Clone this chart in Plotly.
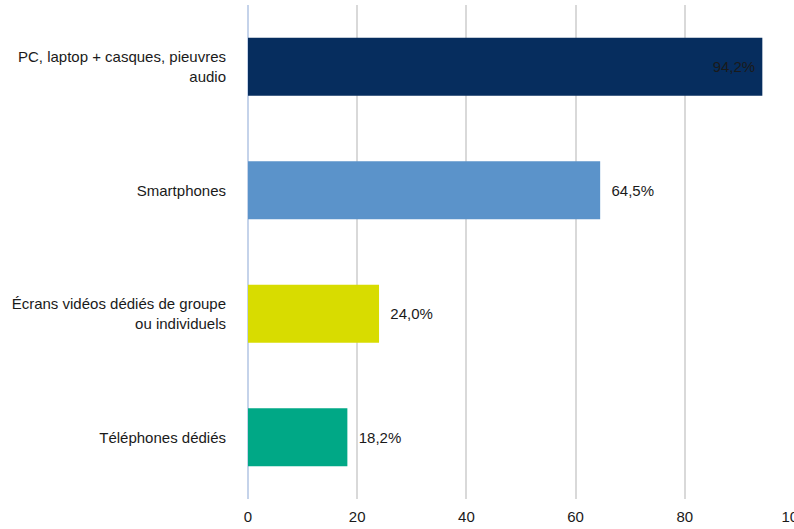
import plotly.graph_objects as go

categories = ["PC, laptop + casques, pieuvres<br>audio", "Smartphones",
              "Écrans vidéos dédiés de groupe<br>ou individuels", "Téléphones dédiés"]
values = [94.2, 64.5, 24.0, 18.2]
labels = ["94,2%", "64,5%", "24,0%", "18,2%"]
colors = ["#062d5e", "#5b93ca", "#d8dc00", "#00a886"]
positions = ["inside", "outside", "outside", "outside"]
templates = ["%{text} ", "  %{text}", "  %{text}", "  %{text}"]
x_ticks = [0, 20, 40, 60, 80, 100]

fig = go.Figure(go.Bar(
    y=categories, x=values, orientation="h",
    marker=dict(color=colors, line=dict(width=0)),
    text=labels, textposition=positions, texttemplate=templates, insidetextanchor="end",
    textfont=dict(family="Liberation Sans, Arial", size=15, color="#1a1a1a"),
    cliponaxis=False,
))
fig.update_layout(
    width=794, height=529,
    margin=dict(l=248, r=0, t=5, b=30),
    paper_bgcolor="white", plot_bgcolor="white",
    bargap=0.53, showlegend=False,
    font=dict(family="Liberation Sans, Arial", size=15, color="#1a1a1a"),
    xaxis=dict(range=[0, 100], tickvals=x_ticks, showgrid=True, gridcolor="#d9d9d9",
               gridwidth=1.5, zeroline=True, zerolinecolor="#c5d3ea", zerolinewidth=1.5,
               ticks="outside", ticklen=4, tickcolor="rgba(0,0,0,0)", showline=False,
               automargin=False, ticklabeloverflow="allow"),
    yaxis=dict(autorange="reversed", categoryorder="array", categoryarray=categories,
               ticks="outside", ticklen=18, tickcolor="rgba(0,0,0,0)", showline=False,
               automargin=False),
    uniformtext=dict(mode=False),
)
fig.write_html("out.html", config={"displayModeBar": False},
               post_script="document.body.style.margin='0';document.body.style.overflow='hidden';")
